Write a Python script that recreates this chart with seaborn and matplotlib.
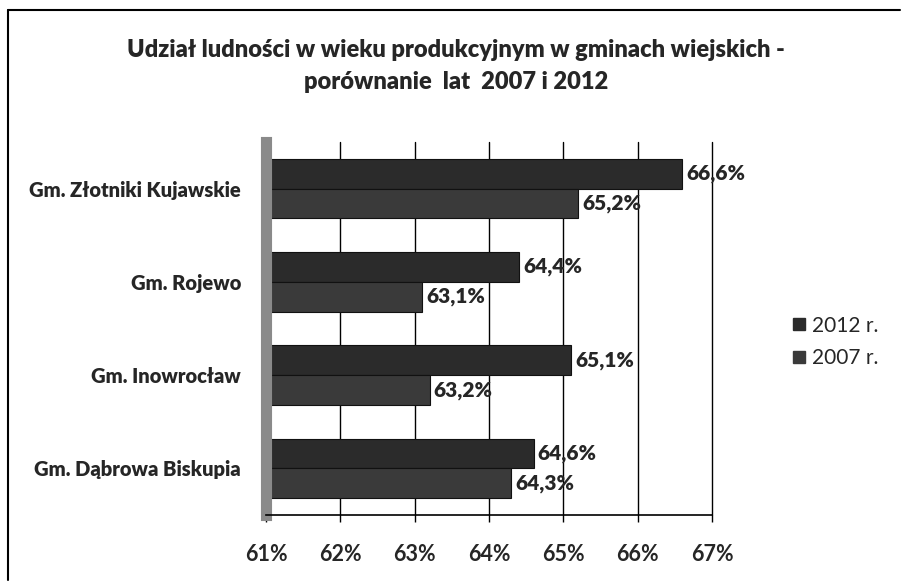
import matplotlib
matplotlib.use("Agg")
import matplotlib.pyplot as plt
import seaborn as sns
import pandas as pd
from matplotlib.lines import Line2D

gminy = ["Gm. Złotniki Kujawskie", "Gm. Rojewo", "Gm. Inowrocław", "Gm. Dąbrowa Biskupia"]
lata = ["2012 r.", "2007 r."]
wart_2012 = [66.6, 64.4, 65.1, 64.6]
wart_2007 = [65.2, 63.1, 63.2, 64.3]
xticks = [61, 62, 63, 64, 65, 66, 67]

df = pd.DataFrame({
    "gmina": gminy * 2,
    "rok": [lata[0]] * 4 + [lata[1]] * 4,
    "udzial": wart_2012 + wart_2007,
})

sns.set_theme(style="white")
plt.rcParams["font.family"] = ["Lato", "DejaVu Sans"]

fig = plt.figure(figsize=(9.04, 5.83), dpi=100)
ax = fig.add_axes([266 / 904, 1 - 515 / 583, 446 / 904, 373 / 583])

palette = {lata[0]: "#2b2b2b", lata[1]: "#3a3a3a"}
sns.barplot(data=df, x="udzial", y="gmina", hue="rok", order=gminy, hue_order=lata,
            palette=palette, orient="h", width=0.64, ax=ax, legend=False,
            edgecolor="#111111", linewidth=0.8, saturation=1)

ax.set_xlim(61, 67)
ax.set_xticks(xticks)
ax.set_xticklabels([f"{t}%" for t in xticks])
ax.set_xlabel("")
ax.set_ylabel("")
ax.tick_params(axis="y", labelsize=14.5, pad=18, length=0)
ax.tick_params(axis="x", labelsize=15.5, pad=16, length=5, width=1, direction="out",
               bottom=True, color="black")
for lbl in ax.get_yticklabels():
    lbl.set_fontweight("heavy")
for lbl in ax.get_xticklabels():
    lbl.set_fontweight("bold")

for t in xticks:
    ax.axvline(t, color="black", linewidth=1.0, zorder=0, clip_on=False)

for sp in ["top", "right"]:
    ax.spines[sp].set_visible(False)
ax.spines["left"].set_color("#8a8a8a")
ax.spines["left"].set_linewidth(8)
ax.spines["bottom"].set_color("black")
ax.spines["bottom"].set_linewidth(1.2)

for cont in ax.containers:
    labels = [f"{b.get_width():.1f}%".replace(".", ",") for b in cont]
    ax.bar_label(cont, labels=labels, padding=3, fontsize=15, fontweight="heavy")

# legend
handles = [Line2D([0], [0], marker="s", linestyle="", markersize=8,
                  markerfacecolor=palette[l], markeredgecolor=palette[l]) for l in lata]
fig.legend(handles, lata, loc="center left", bbox_to_anchor=(772 / 904, 1 - 342 / 583),
           frameon=False, fontsize=15, handletextpad=0.2, labelspacing=0.6,
           handlelength=0.8)

fig.text(456 / 904, 1 - 66 / 583,
         "Udział ludności w wieku produkcyjnym w gminach wiejskich -\nporównanie  lat  2007 i 2012",
         ha="center", va="center", fontsize=17, fontweight="heavy", linespacing=1.55)

# outer frame (left and top edges)
fig.add_artist(Line2D([8 / 904, 8 / 904], [1 - 10 / 583, 1 - 580 / 583], color="black", linewidth=1.5,
                      transform=fig.transFigure))
fig.add_artist(Line2D([8 / 904, 900 / 904], [1 - 10 / 583, 1 - 10 / 583], color="black", linewidth=1.5,
                      transform=fig.transFigure))

fig.savefig("out.png", dpi=100)
